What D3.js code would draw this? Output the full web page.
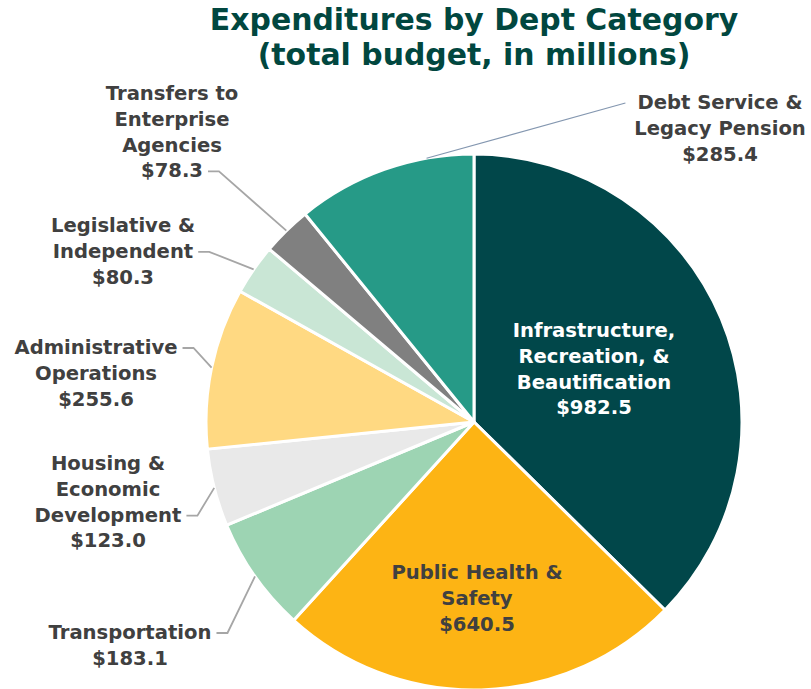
<!DOCTYPE html>
<html><head><meta charset="utf-8">
<script src="https://cdn.jsdelivr.net/npm/d3@7"></script>
<style>body{margin:0;background:#fff}svg{display:block}</style>
</head><body>
<svg id="c" width="811" height="689"></svg>
<script>
// ---- data ----
const categories = ["Infrastructure, Recreation, & Beautification","Public Health & Safety","Transportation","Housing & Economic Development","Administrative Operations","Legislative & Independent","Transfers to Enterprise Agencies","Debt Service & Legacy Pension"];
const values = [982.5, 640.5, 183.1, 123.0, 255.6, 80.3, 78.3, 285.4];
const labelLines = [
  ["Infrastructure,","Recreation, &","Beautification"],
  ["Public Health &","Safety"],
  ["Transportation"],
  ["Housing &","Economic","Development"],
  ["Administrative","Operations"],
  ["Legislative &","Independent"],
  ["Transfers to","Enterprise","Agencies"],
  ["Debt Service &","Legacy Pension"]
];
const colors = ["#01474A","#FDB414","#9DD4B3","#E9E9E9","#FFD982","#C9E6D5","#808080","#269A87"];
const titleLines = ["Expenditures by Dept Category","(total budget, in millions)"];

// ---- layout (not data) ----
const W = 811, H = 689, cx = 474, cy = 422, R = 268;
const labelLayout = [
  {x:594, y:337, inside:true},
  {x:477, y:579, inside:true},
  {x:130, y:639, leaderLine:0, side:"right"},
  {x:108, y:470, leaderLine:2, side:"right"},
  {x:96,  y:354, leaderLine:0, side:"right"},
  {x:123, y:232, leaderLine:1, side:"right"},
  {x:172, y:100, leaderLine:3, side:"right"},
  {x:720, y:109, leaderLine:0, side:"left", angle:349.8, thin:true}
];
const lineH = 25.8;

const svg = d3.select("#c");
svg.append("g").selectAll("text").data(titleLines).join("text")
  .attr("x", cx).attr("y", (d,i)=>30 + i*35)
  .attr("text-anchor","middle")
  .attr("font-family","'DejaVu Sans', sans-serif").attr("font-weight","bold")
  .attr("font-size", 29.9).attr("fill","#01473F")
  .text(d=>d);

const pie = d3.pie().sort(null).value(d=>d)(values);
const arc = d3.arc().innerRadius(0).outerRadius(R);
const g = svg.append("g").attr("transform",`translate(${cx},${cy})`);
g.selectAll("path").data(pie).join("path")
  .attr("d", arc).attr("fill",(d,i)=>colors[i])
  .attr("stroke","#fff").attr("stroke-width",3).attr("stroke-linejoin","round");

const fmt = d3.format(".1f");
const lg = svg.append("g");
pie.forEach((p,i)=>{
  const L = labelLayout[i];
  const lines = labelLines[i].concat(["$" + fmt(values[i])]);
  const t = lg.append("text")
    .attr("text-anchor","middle")
    .attr("font-family","'DejaVu Sans', sans-serif").attr("font-weight","bold")
    .attr("font-size", 19.6)
    .attr("fill", L.inside && i===0 ? "#ffffff" : "#404040");
  const spans = lines.map((s,k)=> t.append("tspan").attr("x",L.x).attr("y",L.y + k*lineH).text(s));
  if (!L.inside) {
    const sp = spans[L.leaderLine].node();
    const w = sp.getComputedTextLength();
    const ly = L.y + L.leaderLine*lineH - 6;
    const a = L.angle !== undefined ? L.angle*Math.PI/180 : (p.startAngle + p.endAngle)/2;
    const ex = cx + R*Math.sin(a), ey = cy - R*Math.cos(a);
    let pts;
    if (L.side === "right") {
      const sx = L.x + w/2 + 5;
      pts = [[sx,ly],[sx+11,ly],[ex,ey]];
    } else {
      const sx = L.x - w/2 - 12;
      pts = [[sx,ly],[ex,ey]];
    }
    lg.append("path").attr("d", d3.line()(pts))
      .attr("fill","none")
      .attr("stroke", L.thin ? "#8497B0" : "#A6A6A6")
      .attr("stroke-width", L.thin ? 1.2 : 1.8);
  }
});
</script>
</body></html>
